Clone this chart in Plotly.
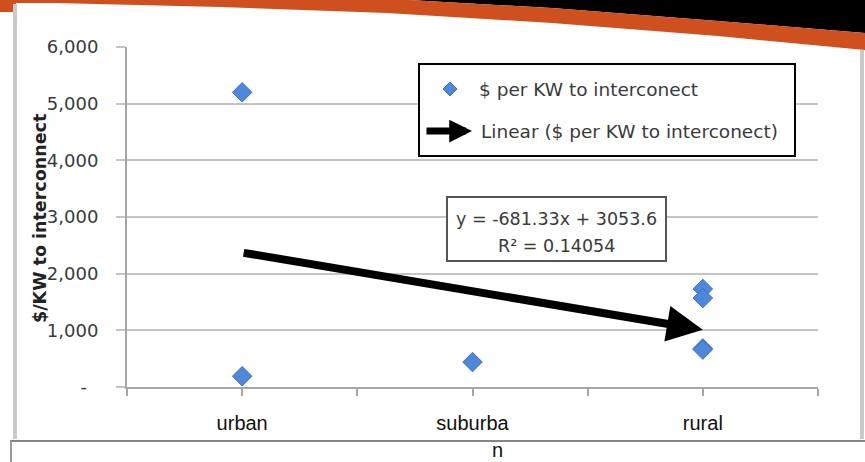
import plotly.graph_objects as go

# ---------------- data ----------------
categories = ["urban", "suburba", "rural"]
category_x = [1, 2, 3]
point_x = [1, 1, 2, 3, 3, 3, 3]
point_y = [5200, 190, 440, 1730, 1570, 680, 660]
trend_slope = -681.33
trend_intercept = 3053.6
trend_x = [1, 3]
y_tick_values = [0, 1000, 2000, 3000, 4000, 5000, 6000]
y_tick_labels = ["-\u00a0\u00a0", "1,000", "2,000", "3,000", "4,000", "5,000", "6,000"]
x_tick_values = [0.5, 1, 1.5, 2, 2.5, 3, 3.5]
series_name = "$ per KW to interconect"
trend_name = "Linear ($ per KW to interconect)"
y_title = "$/KW to interconnect"
equation_text = "y = -681.33x + 3053.6"
r2_text = "R² = 0.14054"
wrapped_tail = "n"

trend_y = [trend_slope * v + trend_intercept for v in trend_x]
x_tick_text = []
for v in x_tick_values:
    x_tick_text.append(categories[category_x.index(v)] if v in category_x else "")

# ---------------- geometry helpers ----------------
W, H = 865, 462
L, R, T, B = 127, 47, 47, 75
PW, PH = W - L - R, H - T - B


def px(x):
    return (x - L) / PW


def py(y):
    return (H - B - y) / PH


def path(points):
    s = "M " + " L ".join(f"{px(a):.5f},{py(b):.5f}" for a, b in points) + " Z"
    return s


BLUE = "#4F87DA"
ORANGE = "#CF4F1F"
GRID = "#C4C4C4"
AXIS = "#A6A6A6"
TXT = "#3A3A3A"
FONT = "DejaVu Sans"

fig = go.Figure()
fig.add_trace(go.Scatter(
    x=point_x, y=point_y, mode="markers", name=series_name,
    marker=dict(symbol="diamond", size=15, color=BLUE,
                line=dict(color="#3E70BD", width=1)),
    cliponaxis=False, showlegend=False, hoverinfo="x+y",
))

shapes = []
# header decoration: black corner and orange band
shapes.append(dict(type="path", xref="paper", yref="paper", layer="above",
                   path=path([(409, 0), (552, 8), (718, 21), (865, 33), (865, 0)]),
                   fillcolor="black", line=dict(width=0)))
shapes.append(dict(type="path", xref="paper", yref="paper", layer="above",
                   path=path([(0, 0), (409, 0), (552, 8), (718, 21), (865, 33),
                              (865, 50), (718, 36), (552, 23), (387, 13), (221, 7),
                              (55, 3), (16, 3), (16, 12), (0, 12)]),
                   fillcolor=ORANGE, line=dict(width=0)))
# frame lines
shapes.append(dict(type="line", xref="paper", yref="paper", x0=px(15), x1=px(15),
                   y0=py(4), y1=py(439), line=dict(color="#CACACA", width=4)))
shapes.append(dict(type="line", xref="paper", yref="paper", x0=px(862), x1=px(862),
                   y0=py(50), y1=py(439), line=dict(color="#CACACA", width=4)))
shapes.append(dict(type="line", xref="paper", yref="paper", x0=px(10), x1=px(866),
                   y0=py(441), y1=py(441), line=dict(color="#858585", width=2)))
shapes.append(dict(type="line", xref="paper", yref="paper", x0=px(11), x1=px(11),
                   y0=py(441), y1=py(463), line=dict(color="#9A9A9A", width=2)))
# legend box
shapes.append(dict(type="rect", xref="paper", yref="paper", layer="above",
                   x0=px(419), x1=px(795), y0=py(64), y1=py(156),
                   fillcolor="white", line=dict(color="black", width=2)))
# legend diamond
shapes.append(dict(type="path", xref="paper", yref="paper", layer="above",
                   path=path([(450, 82), (457, 89), (450, 96), (443, 89)]),
                   fillcolor=BLUE, line=dict(color="#3E70BD", width=1)))
# equation box
shapes.append(dict(type="rect", xref="paper", yref="paper", layer="above",
                   x0=px(447), x1=px(666), y0=py(197), y1=py(261),
                   fillcolor="white", line=dict(color="#555555", width=2)))

annotations = []
# trendline arrow
annotations.append(dict(x=trend_x[1], y=trend_y[1], ax=trend_x[0], ay=trend_y[0],
                        xref="x", yref="y", axref="x", ayref="y", text="",
                        showarrow=True, arrowhead=2, arrowwidth=8, arrowsize=0.9,
                        arrowcolor="black", standoff=0))
# legend entries
annotations.append(dict(x=px(477), y=py(89), xref="paper", yref="paper", text=series_name,
                        showarrow=False, xanchor="left", yanchor="middle",
                        font=dict(family=FONT, size=18.5, color=TXT)))
annotations.append(dict(x=px(479), y=py(131), xref="paper", yref="paper", text=trend_name,
                        showarrow=False, xanchor="left", yanchor="middle",
                        font=dict(family=FONT, size=18.5, color=TXT)))
annotations.append(dict(x=px(472), y=py(131), xref="paper", yref="paper", text="",
                        ax=-47, ay=0, showarrow=True, arrowhead=2, arrowwidth=7,
                        arrowsize=0.65, arrowcolor="black", standoff=0))
# equation text
annotations.append(dict(x=px(556), y=py(219), xref="paper", yref="paper", text=equation_text,
                        showarrow=False, xanchor="center", yanchor="middle",
                        font=dict(family=FONT, size=17.5, color=TXT)))
annotations.append(dict(x=px(556), y=py(246), xref="paper", yref="paper", text=r2_text,
                        showarrow=False, xanchor="center", yanchor="middle",
                        font=dict(family=FONT, size=17.5, color=TXT)))
# y title
annotations.append(dict(x=px(40), y=py(219), xref="paper", yref="paper",
                        text="<b>" + y_title + "</b>", textangle=-90, showarrow=False,
                        xanchor="center", yanchor="middle",
                        font=dict(family=FONT, size=17.5, color="#222222")))
# wrapped remainder of the middle category label
annotations.append(dict(x=category_x[1], y=py(450), xref="x", yref="paper",
                        text=wrapped_tail, xshift=25, showarrow=False,
                        xanchor="center", yanchor="middle",
                        font=dict(family="Liberation Sans", size=20, color="#111111")))

fig.update_layout(
    width=W, height=H,
    margin=dict(l=L, r=R, t=T, b=B, pad=0),
    paper_bgcolor="white", plot_bgcolor="white",
    showlegend=False,
    shapes=shapes, annotations=annotations,
    xaxis=dict(range=[0.5, 3.5], tickmode="array", tickvals=x_tick_values,
               ticktext=x_tick_text, showgrid=False, zeroline=False,
               showline=True, linecolor=AXIS, linewidth=2,
               ticks="outside", ticklen=7, tickwidth=2, tickcolor=AXIS,
               ticklabelstandoff=10,
               tickfont=dict(family="Liberation Sans", size=20, color="#111111")),
    yaxis=dict(range=[0, 6000], tickmode="array", tickvals=y_tick_values,
               ticktext=y_tick_labels, showgrid=True, gridcolor=GRID, gridwidth=2,
               zeroline=False, showline=True, linecolor=AXIS, linewidth=2,
               ticks="outside", ticklen=9, tickwidth=2, tickcolor=GRID,
               ticklabelstandoff=14,
               tickfont=dict(family=FONT, size=18, color=TXT)),
)

fig.write_html("out.html", config={"displayModeBar": False},
               post_script="document.body.style.margin='0px';")
